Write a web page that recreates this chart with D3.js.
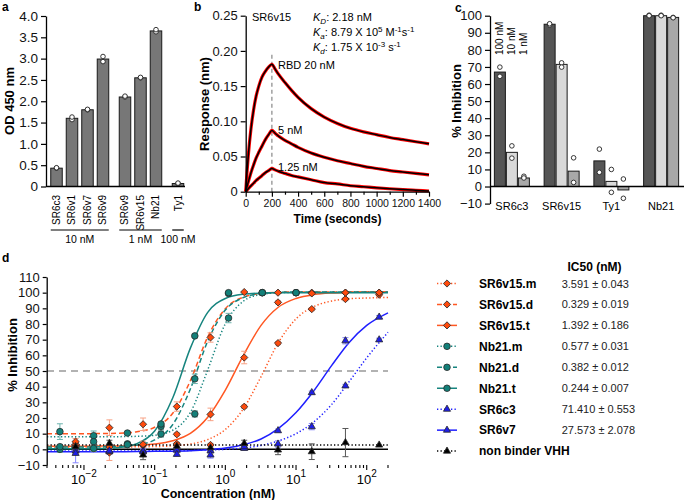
<!DOCTYPE html>
<html>
<head>
<meta charset="utf-8">
<script src="https://cdn.jsdelivr.net/npm/d3@7"></script>
<style>
  body { margin: 0; background: #fff; }
  svg { font-family: "Liberation Sans", Arial, sans-serif; }
</style>
</head>
<body>
<svg id="fig" width="685" height="500"></svg>
<script>
// ---- panel a: ELISA ----
const aNames = ["SR6c3", "SR6v1", "SR6v7", "SR6v9", "SR6v9", "SR6v15", "Nb21", "Ty1"];
const aGroup = ["10 nM", "10 nM", "10 nM", "10 nM", "1 nM", "1 nM", "1 nM", "100 nM"];
const aMean = [0.43, 1.6, 1.8, 2.99, 2.1, 2.55, 3.65, 0.07];
const aRep1 = [0.43, 1.57, 1.8, 2.93, 2.1, 2.55, 3.63, 0.07];
const aRep2 = [0.44, 1.63, 1.81, 3.05, 2.12, 2.56, 3.68, 0.08];
const aTicks = [0, 0.5, 1, 1.5, 2, 2.5, 3, 3.5, 4];

// ---- panel b: BLI sensorgram (SR6v15 vs RBD) ----
const bTime = [0, 10, 20, 40, 60, 80, 100, 125, 150, 175, 200, 225, 250, 300, 350, 400, 500, 600, 700, 800, 900, 1000, 1100, 1200, 1300, 1400];
const b20 = [0, 0.028, 0.052, 0.089, 0.116, 0.136, 0.150, 0.163, 0.171, 0.177, 0.181, 0.174, 0.167, 0.155, 0.144, 0.134, 0.118, 0.106, 0.097, 0.090, 0.085, 0.081, 0.077, 0.074, 0.071, 0.068];
const b5 = [0, 0.0073, 0.014, 0.027, 0.038, 0.048, 0.056, 0.065, 0.074, 0.081, 0.087, 0.083, 0.079, 0.073, 0.068, 0.063, 0.055, 0.049, 0.044, 0.040, 0.036, 0.033, 0.030, 0.028, 0.026, 0.024];
const b125 = [0, 0.0022, 0.0043, 0.0083, 0.012, 0.016, 0.019, 0.023, 0.027, 0.030, 0.033, 0.031, 0.029, 0.026, 0.023, 0.021, 0.017, 0.013, 0.011, 0.0085, 0.007, 0.0055, 0.0042, 0.003, 0.002, 0.001];
const bXTicks = [0, 200, 400, 600, 800, 1000, 1200, 1400];
const bYTicks = [0, 0.05, 0.10, 0.15, 0.20, 0.25];

// ---- panel c: inhibition at three doses ----
const cGroups = ["SR6c3", "SR6v15", "Ty1", "Nb21"];
const cDoses = ["100 nM", "10 nM", "1 nM"];
const c100 = [67, 95, 15, 100];
const c100p1 = [69.9, 94.6, 21.9, 100.3];
const c100p2 = [64.5, 95.3, 8.3, 100];
const c10 = [20, 71.5, 3, 100];
const c10p1 = [23.8, 72.4, 10, 100.3];
const c10p2 = [16.6, 69.9, -3.4, 100];
const c1 = [5, 9, -2, 99];
const c1p1 = [6, 16.8, 4.4, 99];
const c1p2 = [5, 2.4, -6.9, 98.8];
const cTicks = [-10, 0, 10, 20, 30, 40, 50, 60, 70, 80, 90, 100];

// ---- panel d: dose response ----
const concA = [150, 50, 16.7, 5.56, 1.85, 0.617, 0.206, 0.0686, 0.0229, 0.00762];
const concB = [10, 3.33, 1.11, 0.370, 0.123, 0.0412, 0.0137, 0.00457];
const curveConc = [0.003, 0.0056, 0.01, 0.018, 0.032, 0.056, 0.1, 0.18, 0.32, 0.56, 1, 1.8, 3.2, 5.6, 10, 18, 32, 56, 100, 200];

const v15mVal = [98.7, 95.9, 89.5, 67.8, 27.2, 2.8, 3.5, 2.5, 1.5, 3];
const v15mErr = [1, 1, 1, 1, 1, 1, 1, 1, 1, 1];
const v15mFit = [1.5, 1.5, 1.5, 1.5, 1.5, 1.6, 1.8, 2.2, 3.4, 6.2, 12.7, 25.9, 46.4, 68.0, 83.3, 91.2, 94.7, 96.1, 96.6, 96.9];
const v15dVal = [100, 100, 100, 100, 100.4, 71.4, 27.3, 16, 13.8, 4.9];
const v15dErr = [0, 0, 0, 0, 0, 3, 3, 4, 5, 2];
const v15dFit = [10, 10, 10, 10.1, 10.3, 11.2, 14.1, 23.0, 43.8, 71.5, 89.8, 97.2, 99.5, 100.2, 100.5, 100.5, 100.5, 100.5, 100.5, 100.5];
const v15tVal = [100, 100, 99.5, 93.8, 58.6, 22.3, 9.6, 3.2, -2.1, 1.7];
const v15tErr = [0, 0, 0, 1, 4, 4, 1, 2, 5, 3];
const v15tFit = [2.0, 2.0, 2.0, 2.1, 2.2, 2.6, 3.4, 5.5, 10.2, 20.3, 37.8, 60.0, 79.1, 90.7, 96.3, 98.8, 99.8, 100.2, 100.4, 100.5];
const nbmVal = [100, 100, 83.8, 22.6, 9.8, 10.4, 8.7, 11.3];
const nbmErr = [0, 0, 3, 2, 2, 1, 3, 5];
const nbmFit = [8, 8, 8, 8, 8.1, 8.3, 9.0, 12.2, 23.5, 50.4, 80.2, 94.6, 98.9, 99.9, 100.2, 100.3, 100.3, 100.3, 100.3, 100.3];
const nbdVal = [100, 100, 99.5, 45, 14.7, 3.5, 4.9, 0];
const nbdErr = [0, 0, 0, 3, 2, 1, 3, 2];
const nbdFit = [1.5, 1.5, 1.5, 1.6, 1.9, 2.8, 6.0, 15.8, 38.5, 68.8, 88.9, 96.9, 99.4, 100.2, 100.5, 100.5, 100.5, 100.5, 100.5, 100.5];
const nbtVal = [100, 100, 100, 72.4, 16.2, 3, 0.6, 1.7];
const nbtErr = [0, 0, 0, 1, 1, 1, 2, 1];
const nbtFit = [0.3, 0.3, 0.4, 0.5, 1.2, 3.6, 11.7, 32.8, 64.6, 87.3, 96.3, 99.0, 99.7, 99.9, 100, 100, 100, 100, 100, 100];
const c3Val = [69.9, 40.5, 14.5, 3.4, 0.6, -1, -0.5, -1, -1.5, -1];
const c3Err = [1, 1, 2, 2, 1, 1, 1, 1, 1, 1];
const c3Fit = [-1, -1, -1, -1, -1, -1, -0.9, -0.8, -0.7, -0.4, 0, 0.9, 2.5, 5.3, 10.0, 17.6, 28.7, 43.0, 58.4, 74.7];
const v7Val = [84.4, 69.3, 36.2, 11.9, 1.7, -3.6, -3.2, -1.5, -1, -2.6];
const v7Err = [1, 2, 1, 1, 2, 2, 1, 2, 2, 6];
const v7Fit = [-1.5, -1.5, -1.5, -1.5, -1.5, -1.4, -1.3, -1.2, -0.9, -0.3, 0.8, 2.9, 6.6, 13.2, 23.5, 37.6, 53.6, 68.1, 79.1, 87.1];
const nbVal = [2.75, 4.3, -1.5, -0.4, 3.8, 1, 2, -3.6, 3.8, 1.7];
const nbErr = [0, 9, 5, 3, 2, 2, 2, 3, 2, 2];
const nbFit = [2.7, 2.7, 2.7, 2.7, 2.7, 2.7, 2.7, 2.7, 2.7, 2.7, 2.7, 2.7, 2.7, 2.7, 2.7, 2.7, 2.7, 2.7, 2.7, 2.7];
const dNames = ["SR6v15.m", "SR6v15.d", "SR6v15.t", "Nb21.m", "Nb21.d", "Nb21.t", "SR6c3", "SR6v7", "non binder VHH"];
const dIC50 = ["3.591 ± 0.043", "0.329 ± 0.019", "1.392 ± 0.186", "0.577 ± 0.031", "0.382 ± 0.012", "0.244 ± 0.007", "71.410 ± 0.553", "27.573 ± 2.078", ""];
const dYTicks = [-10, 0, 10, 20, 30, 40, 50, 60, 70, 80, 90, 100, 110];

const svg = d3.select("#fig");
const FONT = "Liberation Sans, Arial, sans-serif";

function styleAxis(g, size) {
  g.attr("font-family", FONT).attr("font-size", size);
  g.selectAll("path.domain").attr("stroke", "#000").attr("stroke-width", 1.3);
  g.selectAll(".tick line").attr("stroke", "#000").attr("stroke-width", 1.2);
  g.selectAll(".tick text").attr("fill", "#111");
}

function panelLabel(t, x, y) {
  svg.append("text").attr("x", x).attr("y", y).attr("font-weight", "bold")
    .attr("font-size", 12).text(t);
}

function rotLabel(t, x, y, size) {
  svg.append("text").attr("transform", `translate(${x},${y}) rotate(-90)`)
    .attr("text-anchor", "middle").attr("font-weight", "bold")
    .attr("font-size", size).text(t);
}

// =============== a ===============
panelLabel("a", 2, 11);
const aGroupOrder = [...new Set(aGroup)];
const aSlot = aNames.map((d, i) => i + 0.42 * aGroupOrder.indexOf(aGroup[i]));
const xa = d3.scaleLinear().domain([0, 7.84]).range([56.5, 178]);
const ya = d3.scaleLinear().domain([0, 4]).range([186.5, 16]);
const aBarW = 11.5;

const gA = svg.append("g");
gA.selectAll("rect").data(aMean).enter().append("rect")
  .attr("x", (d, i) => xa(aSlot[i]) - aBarW / 2)
  .attr("y", d => ya(d))
  .attr("width", aBarW)
  .attr("height", d => ya(0) - ya(d))
  .attr("fill", "#777").attr("stroke", "#1a1a1a").attr("stroke-width", 1);

[aRep1, aRep2].forEach(rep => {
  gA.selectAll(null).data(rep).enter().append("circle")
    .attr("cx", (d, i) => xa(aSlot[i]))
    .attr("cy", d => ya(d))
    .attr("r", 2.3)
    .attr("fill", "#fff").attr("stroke", "#222").attr("stroke-width", 0.9);
});

const axA = svg.append("g").attr("transform", "translate(46,0)")
  .call(d3.axisLeft(ya).tickValues(aTicks).tickSize(5).tickSizeOuter(0)
    .tickFormat(d => d === 0 ? "0" : d.toFixed(1)));
styleAxis(axA, 13.5);

svg.append("line").attr("x1", 46).attr("x2", 185).attr("y1", ya(0)).attr("y2", ya(0))
  .attr("stroke", "#000").attr("stroke-width", 1.3);

aNames.forEach((n, i) => {
  svg.append("text")
    .attr("transform", `translate(${xa(aSlot[i]) + 3.5},195) rotate(-90)`)
    .attr("text-anchor", "end").attr("font-size", 10).text(n);
});

aGroupOrder.forEach(gname => {
  const slots = aSlot.filter((s, i) => aGroup[i] === gname);
  const x1 = xa(d3.min(slots)) - aBarW / 2, x2 = xa(d3.max(slots)) + aBarW / 2;
  svg.append("line").attr("x1", x1).attr("x2", x2).attr("y1", 230).attr("y2", 230)
    .attr("stroke", "#000").attr("stroke-width", 1.2);
  svg.append("text").attr("x", (x1 + x2) / 2).attr("y", 243)
    .attr("text-anchor", "middle").attr("font-size", 10.5).text(gname);
});
rotLabel("OD 450 nm", 14, 101, 13);

// =============== b ===============
panelLabel("b", 194, 11);
const xb = d3.scaleLinear().domain([0, 1400]).range([245.7, 429]);
const yb = d3.scaleLinear().domain([0, 0.25]).range([191.7, 15.7]);
const lineB = d3.line().x((d, i) => xb(bTime[i])).y(d => yb(d)).curve(d3.curveMonotoneX);

svg.append("line").attr("x1", xb(200)).attr("x2", xb(200))
  .attr("y1", yb(0)).attr("y2", yb(0.197))
  .attr("stroke", "#888").attr("stroke-width", 1.2).attr("stroke-dasharray", "4,3");

[b20, b5, b125].forEach(s => {
  svg.append("path").attr("d", lineB(s)).attr("fill", "none")
    .attr("stroke", "#ff0000").attr("stroke-width", 3.2);
});
[b20, b5, b125].forEach(s => {
  svg.append("path").attr("d", lineB(s)).attr("fill", "none")
    .attr("stroke", "#000").attr("stroke-width", 1.5);
});

const axBx = svg.append("g").attr("transform", `translate(0,${yb(0)})`)
  .call(d3.axisBottom(xb).tickValues(bXTicks).tickSize(5).tickSizeOuter(0).tickFormat(d => String(d)));
styleAxis(axBx, 10.5);
const axBm = svg.append("g").attr("transform", `translate(0,${yb(0)})`)
  .call(d3.axisBottom(xb).tickValues(bXTicks.slice(0, -1).map(t => t + 100)).tickSize(3).tickFormat(""));
styleAxis(axBm, 10.5);
axBm.select("path.domain").remove();

const axBy = svg.append("g").attr("transform", `translate(${xb(0)},0)`)
  .call(d3.axisLeft(yb).tickValues(bYTicks).tickSize(5).tickSizeOuter(0)
    .tickFormat(d => d === 0 ? "0" : d.toFixed(2)));
styleAxis(axBy, 13);

svg.append("text").attr("x", 337.5).attr("y", 223).attr("text-anchor", "middle")
  .attr("font-weight", "bold").attr("font-size", 12).text("Time (seconds)");
rotLabel("Response (nm)", 209, 104, 13);

function rich(x, y, parts) {
  const t = svg.append("text").attr("x", x).attr("y", y).attr("font-size", 11);
  let shift = 0;
  parts.forEach(([s, kind]) => {
    const want = kind.includes("sub") ? 3 : kind.includes("sup") ? -4 : 0;
    const sp = t.append("tspan").attr("dy", want - shift).text(s);
    shift = want;
    if (kind.includes("i")) sp.attr("font-style", "italic");
    if (want !== 0) sp.attr("font-size", 8);
  });
}
svg.append("text").attr("x", 252).attr("y", 20.5).attr("font-size", 11).text("SR6v15");
rich(313, 20.5, [["K", "i"], ["D", "isub"], [": 2.18 nM", ""]]);
rich(313, 36, [["K", "i"], ["a", "isub"], [": 8.79 X 10", ""], ["5", "sup"], [" M", ""], ["-1", "sup"], ["s", ""], ["-1", "sup"]]);
rich(313, 50.5, [["K", "i"], ["d", "isub"], [": 1.75 X 10", ""], ["-3", "sup"], [" s", ""], ["-1", "sup"]]);
svg.append("text").attr("x", 278).attr("y", 69).attr("font-size", 11).text("RBD 20 nM");
svg.append("text").attr("x", 278).attr("y", 134).attr("font-size", 11).text("5 nM");
svg.append("text").attr("x", 278).attr("y", 170.5).attr("font-size", 11).text("1.25 nM");

// =============== c ===============
panelLabel("c", 455, 12);
const xc = d3.scaleBand().domain(cGroups).range([487, 686]);
const yc = d3.scaleLinear().domain([-10, 100]).range([203.6, 15.7]);
const cOff = [-12, 0, 12];
const cFill = ["#555555", "#d9d9d9", "#a8a8a8"];
const cBars = [c100, c10, c1];
const cPts = [[c100p1, c100p2], [c10p1, c10p2], [c1p1, c1p2]];

cBars.forEach((vals, k) => {
  svg.append("g").selectAll("rect").data(vals).enter().append("rect")
    .attr("x", (d, i) => xc(cGroups[i]) + xc.bandwidth() / 2 + cOff[k] - 5.5)
    .attr("y", d => yc(Math.max(d, 0)))
    .attr("width", 11)
    .attr("height", d => Math.abs(yc(d) - yc(0)))
    .attr("fill", cFill[k]).attr("stroke", "#1a1a1a").attr("stroke-width", 1);
});
cPts.forEach((reps, k) => {
  reps.forEach(rep => {
    svg.append("g").selectAll("circle").data(rep).enter().append("circle")
      .attr("cx", (d, i) => xc(cGroups[i]) + xc.bandwidth() / 2 + cOff[k])
      .attr("cy", d => yc(d))
      .attr("r", 2.3)
      .attr("fill", "#fff").attr("stroke", "#222").attr("stroke-width", 0.9);
  });
});

const axCy = svg.append("g").attr("transform", "translate(490,0)")
  .call(d3.axisLeft(yc).tickValues(cTicks).tickSize(5).tickSizeOuter(0));
styleAxis(axCy, 13);
svg.append("line").attr("x1", 490).attr("x2", 684).attr("y1", yc(0)).attr("y2", yc(0))
  .attr("stroke", "#000").attr("stroke-width", 1.3);
cGroups.forEach(gname => {
  svg.append("text").attr("x", xc(gname) + xc.bandwidth() / 2).attr("y", 209.5)
    .attr("text-anchor", "middle").attr("font-size", 11).text(gname);
});
cDoses.forEach((d, k) => {
  svg.append("text")
    .attr("transform", `translate(${xc(cGroups[0]) + xc.bandwidth() / 2 + cOff[k] + 3.5},55) rotate(-90)`)
    .attr("font-size", 10).text(d);
});
rotLabel("% Inhibition", 461, 101, 13);

// =============== d ===============
panelLabel("d", 2, 262);
const xd = d3.scaleLog().domain([0.003, 200]).range([47, 388]);
const yd = d3.scaleLinear().domain([-10, 110]).range([465, 277]);

const ORANGE = "#ff5722", TEAL = "#16847e", BLUE = "#1f1fff";
const dSeries = [
  { conc: concA, val: v15mVal, err: v15mErr, fit: v15mFit, color: ORANGE, fill: "#ff4a0c", ecol: "#f7a184", dash: "1.3,2.2", sym: "diamond" },
  { conc: concA, val: v15dVal, err: v15dErr, fit: v15dFit, color: ORANGE, fill: "#ff4a0c", ecol: "#f7a184", dash: "5,3", sym: "diamond" },
  { conc: concA, val: v15tVal, err: v15tErr, fit: v15tFit, color: ORANGE, fill: "#ff4a0c", ecol: "#f7a184", dash: null, sym: "diamond" },
  { conc: concB, val: nbmVal, err: nbmErr, fit: nbmFit, color: TEAL, fill: "#138079", ecol: "#6db3ae", dash: "1.3,2.2", sym: "circle" },
  { conc: concB, val: nbdVal, err: nbdErr, fit: nbdFit, color: TEAL, fill: "#138079", ecol: "#6db3ae", dash: "5,3", sym: "circle" },
  { conc: concB, val: nbtVal, err: nbtErr, fit: nbtFit, color: TEAL, fill: "#138079", ecol: "#6db3ae", dash: null, sym: "circle" },
  { conc: concA, val: c3Val, err: c3Err, fit: c3Fit, color: BLUE, fill: "#1e1ee6", ecol: "#8585ff", dash: "1.3,2.2", sym: "triangle" },
  { conc: concA, val: v7Val, err: v7Err, fit: v7Fit, color: BLUE, fill: "#1e1ee6", ecol: "#8585ff", dash: null, sym: "triangle" },
  { conc: concA, val: nbVal, err: nbErr, fit: nbFit, color: "#000", fill: "#000", ecol: "#555", dash: "1.3,2.2", sym: "triangle" }
];
const symPath = {
  diamond: d3.symbol(d3.symbolSquare, 26)(),
  circle: d3.symbol(d3.symbolCircle, 34)(),
  triangle: d3.symbol(d3.symbolTriangle, 22)()
};
const symRot = s => s === "diamond" ? " rotate(45)" : "";

svg.append("line").attr("x1", 47).attr("x2", 388).attr("y1", yd(50)).attr("y2", yd(50))
  .attr("stroke", "#999").attr("stroke-width", 1.5).attr("stroke-dasharray", "7,5");
svg.append("line").attr("x1", 47).attr("x2", 388).attr("y1", yd(0)).attr("y2", yd(0))
  .attr("stroke", "#000").attr("stroke-width", 1.5);

const lineD = d3.line().x((d, i) => xd(curveConc[i])).y(d => yd(d)).curve(d3.curveMonotoneX);
dSeries.forEach(s => {
  svg.append("path").attr("d", lineD(s.fit)).attr("fill", "none")
    .attr("stroke", s.color).attr("stroke-width", 1.5)
    .attr("stroke-dasharray", s.dash);
});
dSeries.forEach(s => {
  const g = svg.append("g");
  s.val.forEach((v, i) => {
    if (!s.err[i]) return;
    const x = xd(s.conc[i]), y1 = yd(v - s.err[i]), y2 = yd(v + s.err[i]);
    g.append("line").attr("x1", x).attr("x2", x).attr("y1", y1).attr("y2", y2)
      .attr("stroke", s.ecol).attr("stroke-width", 1);
    [y1, y2].forEach(y => g.append("line").attr("x1", x - 3).attr("x2", x + 3)
      .attr("y1", y).attr("y2", y).attr("stroke", s.ecol).attr("stroke-width", 1));
  });
});
dSeries.forEach(s => {
  svg.append("g").selectAll("path").data(s.val).enter().append("path")
    .attr("d", symPath[s.sym])
    .attr("transform", (d, i) => `translate(${xd(s.conc[i])},${yd(d)})${symRot(s.sym)}`)
    .attr("fill", s.fill).attr("stroke", "#2a2a2a").attr("stroke-width", 0.8);
});

const axDy = svg.append("g").attr("transform", "translate(46.7,0)")
  .call(d3.axisLeft(yd).tickValues(dYTicks).tickSize(4).tickSizeOuter(0));
styleAxis(axDy, 13);

const dMinor = [], dMajor = [];
d3.range(-3, 3).forEach(k => {
  d3.range(1, 10).forEach(m => {
    const v = m * Math.pow(10, k);
    if (v < 0.003 || v > 200) return;
    (m === 1 ? dMajor : dMinor).push(v);
  });
});
dMinor.forEach(v => svg.append("line").attr("x1", xd(v)).attr("x2", xd(v))
  .attr("y1", 465).attr("y2", 468).attr("stroke", "#000").attr("stroke-width", 1.1));
dMajor.forEach(v => {
  svg.append("line").attr("x1", xd(v)).attr("x2", xd(v))
    .attr("y1", 465).attr("y2", 470).attr("stroke", "#000").attr("stroke-width", 1.1);
  const e = Math.round(Math.log10(v));
  const t = svg.append("text").attr("x", xd(v)).attr("y", 484)
    .attr("text-anchor", "middle").attr("font-size", 13);
  t.append("tspan").text("10");
  t.append("tspan").attr("dy", -7).attr("font-size", 10).text(e < 0 ? "\u2212" + (-e) : String(e));
});
svg.append("text").attr("x", 218).attr("y", 498).attr("text-anchor", "middle")
  .attr("font-weight", "bold").attr("font-size", 12.5).text("Concentration (nM)");
rotLabel("% Inhibition", 17, 355, 13);

// legend
svg.append("text").attr("x", 594.5).attr("y", 271).attr("text-anchor", "middle")
  .attr("font-weight", "bold").attr("font-size", 12).text("IC50 (nM)");
dSeries.forEach((s, i) => {
  const y = 283.5 + i * 20.95;
  svg.append("line").attr("x1", 437).attr("x2", 457).attr("y1", y).attr("y2", y)
    .attr("stroke", s.color).attr("stroke-width", 1.5).attr("stroke-dasharray", s.dash);
  svg.append("path").attr("d", symPath[s.sym])
    .attr("transform", `translate(447,${y})${symRot(s.sym)}`)
    .attr("fill", s.fill).attr("stroke", "#2a2a2a").attr("stroke-width", 0.8);
  svg.append("text").attr("x", 479).attr("y", y + 4.3)
    .attr("font-weight", "bold").attr("font-size", 12).text(dNames[i]);
  svg.append("text").attr("x", 561.7).attr("y", y + 4)
    .attr("font-size", 11).attr("fill", "#222").text(dIC50[i]);
});
</script>
</body>
</html>
